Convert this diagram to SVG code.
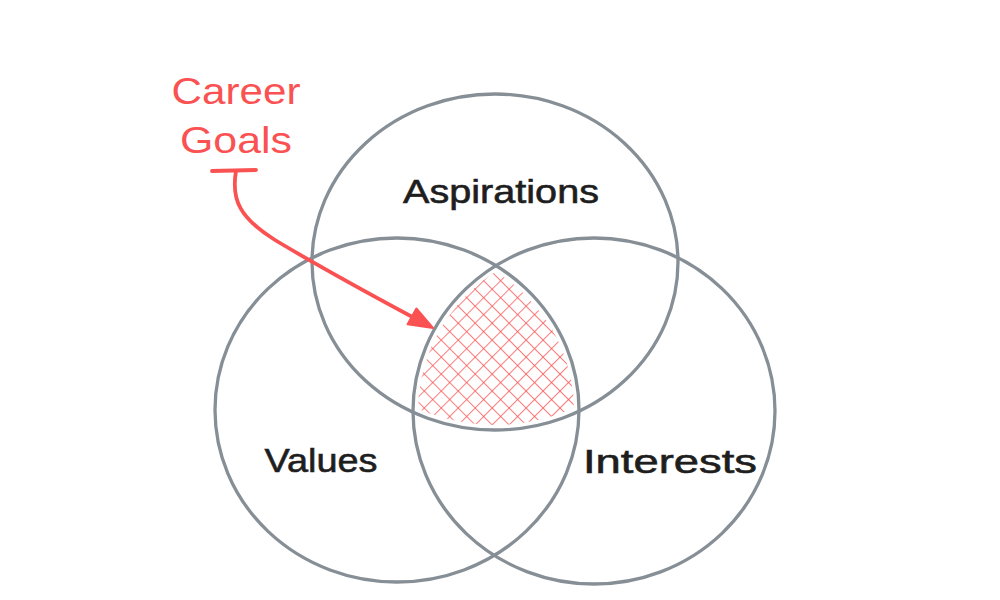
<svg xmlns="http://www.w3.org/2000/svg" width="1000" height="600" viewBox="0 0 1000 600">
<style>
.ring{fill:none;stroke:#868e96;stroke-width:3.3}
.lbl{font-family:"Liberation Sans","DejaVu Sans",sans-serif;font-size:34px;fill:#1e1e1e;stroke:#1e1e1e;stroke-width:0.6;text-anchor:middle}
.red{font-family:"Liberation Sans","DejaVu Sans",sans-serif;font-size:36px;fill:#fa5252;text-anchor:middle}
.arrow{fill:none;stroke:#fa5252;stroke-width:3.8;stroke-linecap:round;stroke-linejoin:round}
</style>
<defs>
<pattern id="hatch" patternUnits="userSpaceOnUse" width="12" height="12" patternTransform="rotate(45)">
<line x1="0" y1="0" x2="0" y2="12" stroke="#fa5252" stroke-width="1.5"/>
<line x1="0" y1="0" x2="12" y2="0" stroke="#fa5252" stroke-width="1.5"/>
</pattern>
<clipPath id="cTop"><ellipse cx="495" cy="262" rx="178" ry="163"/></clipPath>
<clipPath id="cLeft"><ellipse cx="397" cy="410" rx="177" ry="167"/></clipPath>
<clipPath id="cRight"><ellipse cx="594" cy="411" rx="176" ry="168"/></clipPath>
</defs>
<rect width="1000" height="600" fill="#ffffff"/>
<g id="hatch-area" clip-path="url(#cTop)">
<g clip-path="url(#cLeft)">
<rect x="380" y="220" width="240" height="230" fill="url(#hatch)" clip-path="url(#cRight)"/>
</g>
</g>
<g id="aspirations">
<ellipse class="ring" cx="495" cy="262" rx="183" ry="168"/>
<text class="lbl" x="501" y="203" textLength="196" lengthAdjust="spacingAndGlyphs">Aspirations</text>
</g>
<g id="values">
<ellipse class="ring" cx="397" cy="410" rx="182" ry="172"/>
<text class="lbl" x="321" y="472" textLength="113" lengthAdjust="spacingAndGlyphs">Values</text>
</g>
<g id="interests">
<ellipse class="ring" cx="594" cy="411" rx="181" ry="173"/>
<text class="lbl" x="670" y="473" textLength="174" lengthAdjust="spacingAndGlyphs">Interests</text>
</g>
<g id="career-goals">
<text class="red" x="236" y="104" textLength="129" lengthAdjust="spacingAndGlyphs">Career</text>
<text class="red" x="236" y="153" textLength="112" lengthAdjust="spacingAndGlyphs">Goals</text>
</g>
<g id="connectors">
<path class="arrow" d="M212,171 L256,170"/>
<path class="arrow" d="M236,171 C231,200 240,218 275,240 C325,270 375,297 418,320"/>
<polygon points="433,328 407.6,324.3 416.4,308.5" fill="#fa5252" stroke="#fa5252" stroke-width="2" stroke-linejoin="round"/>
</g>
</svg>
